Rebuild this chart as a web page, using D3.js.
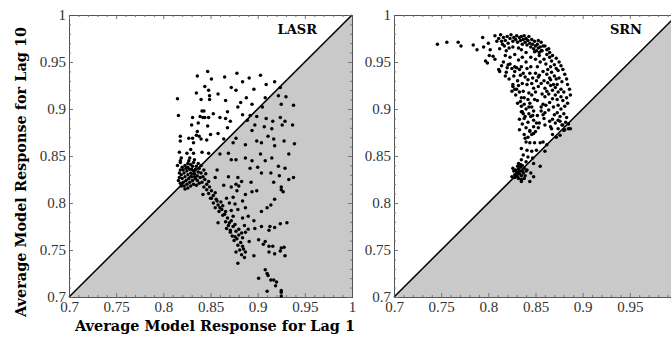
<!DOCTYPE html>
<html>
<head>
<meta charset="utf-8">
<script src="https://cdn.jsdelivr.net/npm/d3@7"></script>
<style>
  body { margin: 0; background: #fff; }
  svg { display: block; }
</style>
</head>
<body>
<div id="chart"></div>
<script>
// axis values
const majorTicks = [0.7, 0.75, 0.8, 0.85, 0.9, 0.95, 1];
const minorTicks = [0.71, 0.72, 0.73, 0.74, 0.76, 0.77, 0.78, 0.79, 0.81, 0.82, 0.83, 0.84,
  0.86, 0.87, 0.88, 0.89, 0.91, 0.92, 0.93, 0.94, 0.96, 0.97, 0.98, 0.99];
const panelNames = ['LASR', 'SRN'];
const xTitle = 'Average Model Response for Lag 1';
const yTitle = 'Average Model Response for Lag 10';

// LASR: [lag 1, lag 10]
const lasrPoints = [
  [0.847,0.940],[0.836,0.935],[0.851,0.932],[0.865,0.934],[0.878,0.938],[0.884,0.929],[0.891,0.933],
  [0.903,0.936],[0.909,0.926],[0.918,0.929],[0.924,0.923],[0.815,0.911],[0.844,0.924],[0.848,0.920],
  [0.835,0.917],[0.849,0.914],[0.840,0.910],[0.849,0.910],[0.858,0.916],[0.866,0.909],[0.872,0.923],
  [0.877,0.920],[0.896,0.921],[0.888,0.912],[0.882,0.907],[0.879,0.902],[0.894,0.905],[0.908,0.912],
  [0.905,0.902],[0.922,0.914],[0.930,0.913],[0.925,0.905],[0.938,0.904],[0.816,0.893],[0.841,0.898],
  [0.843,0.898],[0.839,0.892],[0.842,0.891],[0.844,0.891],[0.831,0.891],[0.848,0.891],[0.853,0.895],
  [0.860,0.891],[0.868,0.897],[0.866,0.890],[0.871,0.887],[0.868,0.880],[0.830,0.883],[0.847,0.882],
  [0.837,0.885],[0.884,0.894],[0.889,0.888],[0.892,0.893],[0.899,0.892],[0.909,0.890],[0.916,0.887],
  [0.924,0.891],[0.926,0.883],[0.929,0.887],[0.937,0.883],[0.897,0.883],[0.907,0.881],[0.915,0.879],
  [0.894,0.877],[0.836,0.876],[0.835,0.872],[0.838,0.871],[0.818,0.871],[0.827,0.869],[0.831,0.869],
  [0.840,0.868],[0.846,0.867],[0.850,0.873],[0.858,0.874],[0.864,0.868],[0.818,0.866],[0.832,0.864],
  [0.874,0.864],[0.887,0.862],[0.899,0.866],[0.904,0.864],[0.917,0.868],[0.918,0.861],[0.928,0.866],
  [0.939,0.863],[0.911,0.871],[0.877,0.869],
  [0.818,0.845],[0.817,0.854],[0.825,0.853],[0.829,0.857],[0.832,0.853],[0.841,0.854],[0.848,0.853],
  [0.860,0.852],[0.869,0.853],[0.877,0.846],[0.872,0.846],[0.887,0.848],[0.894,0.845],[0.903,0.852],
  [0.908,0.845],[0.915,0.848],[0.933,0.852],[0.922,0.839],[0.929,0.837],[0.900,0.838],[0.892,0.837],
  [0.904,0.832],[0.914,0.832],[0.923,0.829],[0.938,0.827],[0.933,0.825],[0.869,0.828],[0.879,0.827],
  [0.883,0.823],[0.877,0.820],[0.880,0.818],[0.872,0.817],[0.864,0.819],[0.857,0.835],[0.855,0.827],
  [0.848,0.823],[0.893,0.822],[0.917,0.822],[0.925,0.817],[0.894,0.812],[0.899,0.813],[0.887,0.809],
  [0.884,0.802],[0.878,0.813],[0.874,0.806],[0.867,0.805],[0.870,0.800],[0.876,0.799],[0.887,0.795],
  [0.879,0.793],[0.872,0.792],[0.863,0.797],[0.857,0.802],[0.860,0.795],[0.865,0.788],[0.874,0.786],
  [0.884,0.784],[0.890,0.786],[0.870,0.779],[0.876,0.777],[0.886,0.776],[0.896,0.781],[0.904,0.791],
  [0.910,0.795],[0.914,0.798],[0.918,0.804],[0.925,0.814],[0.927,0.812],[0.913,0.775],[0.918,0.774],
  [0.924,0.778],[0.931,0.779],[0.904,0.775],[0.897,0.773],[0.890,0.772],[0.867,0.773],[0.858,0.779],
  [0.851,0.805],[0.842,0.809],
  [0.871,0.771],[0.876,0.764],[0.880,0.766],[0.883,0.768],[0.887,0.769],[0.875,0.760],[0.882,0.758],
  [0.884,0.754],[0.881,0.750],[0.887,0.748],[0.883,0.745],[0.886,0.742],[0.879,0.736],[0.891,0.759],
  [0.896,0.744],[0.901,0.761],[0.908,0.759],[0.906,0.756],[0.912,0.754],[0.916,0.754],[0.912,0.748],
  [0.918,0.746],[0.924,0.749],[0.925,0.752],[0.928,0.753],[0.929,0.744],[0.912,0.771],[0.908,0.729],
  [0.910,0.725],[0.911,0.723],[0.901,0.720],[0.914,0.718],[0.917,0.718],[0.920,0.716],[0.919,0.712],
  [0.925,0.707],[0.925,0.705],[0.910,0.706],[0.925,0.701],
  [0.818,0.835],[0.820,0.838],[0.823,0.840],[0.826,0.842],[0.829,0.841],[0.831,0.839],[0.828,0.836],
  [0.825,0.834],[0.822,0.832],[0.819,0.830],[0.817,0.827],[0.820,0.826],[0.823,0.828],[0.826,0.830],
  [0.829,0.832],[0.832,0.834],[0.834,0.836],[0.833,0.831],[0.830,0.828],[0.827,0.826],[0.824,0.824],
  [0.821,0.822],[0.818,0.821],[0.816,0.824],[0.819,0.818],[0.822,0.818],[0.825,0.820],[0.828,0.822],
  [0.831,0.824],[0.834,0.826],[0.836,0.829],[0.837,0.833],[0.835,0.839],[0.832,0.843],[0.827,0.845],
  [0.824,0.837],[0.821,0.835],[0.817,0.832],[0.826,0.838],[0.830,0.836],[0.833,0.828],[0.836,0.824],
  [0.839,0.827],[0.838,0.821],[0.835,0.819],[0.832,0.820],[0.829,0.818],[0.826,0.816],[0.823,0.815],
  [0.840,0.832],[0.842,0.828],[0.841,0.822],[0.844,0.825],[0.838,0.837],[0.843,0.835],[0.845,0.831],
  [0.828,0.848],[0.833,0.846],[0.837,0.842],[0.840,0.840],[0.818,0.843],[0.815,0.840],[0.819,0.848],
  [0.846,0.820],[0.849,0.817],[0.846,0.814],[0.843,0.817],[0.851,0.813],[0.848,0.810],[0.853,0.808],
  [0.850,0.805],[0.855,0.811],[0.856,0.804],[0.853,0.800],[0.858,0.798],[0.861,0.801],[0.855,0.795],
  [0.859,0.791],[0.862,0.793],[0.863,0.787],[0.866,0.791],[0.868,0.784],[0.866,0.780],[0.869,0.776],
  [0.872,0.781],[0.874,0.775],[0.871,0.769],[0.877,0.770],[0.878,0.762],[0.873,0.765],[0.880,0.772],
  [0.884,0.763],[0.879,0.755],[0.885,0.751],[0.877,0.748]
];

// SRN: [lag 1, lag 10]
const srnPoints = [
  [0.746,0.969],[0.756,0.971],[0.768,0.971],[0.771,0.967],[0.784,0.968],[0.788,0.963],[0.794,0.976],
  [0.795,0.966],[0.800,0.970],[0.802,0.963],[0.797,0.951],[0.799,0.949],[0.801,0.957],[0.805,0.956],
  [0.807,0.953],
  [0.807,0.978],[0.809,0.972],[0.811,0.975],[0.813,0.979],[0.814,0.972],[0.816,0.976],[0.818,0.973],
  [0.820,0.977],[0.821,0.970],[0.823,0.975],[0.824,0.979],[0.826,0.972],[0.827,0.976],[0.829,0.974],
  [0.830,0.978],[0.831,0.971],[0.833,0.976],[0.834,0.973],[0.835,0.977],[0.836,0.969],[0.837,0.974],
  [0.838,0.978],[0.839,0.971],[0.840,0.975],[0.841,0.968],[0.842,0.973],[0.843,0.977],[0.844,0.970],
  [0.845,0.966],[0.846,0.974],[0.847,0.969],[0.848,0.964],[0.849,0.972],[0.850,0.967],[0.851,0.962],
  [0.852,0.969],[0.853,0.965],[0.854,0.960],[0.855,0.966],[0.857,0.962],[0.858,0.967],[0.817,0.967],
  [0.812,0.964],[0.822,0.965],[0.826,0.966],[0.832,0.965],[0.815,0.969],[0.819,0.962],[0.835,0.963],
  [0.856,0.971],[0.860,0.967],[0.864,0.964],[0.853,0.973],
  [0.849,0.961],[0.854,0.957],[0.856,0.962],[0.859,0.953],[0.862,0.958],[0.865,0.955],[0.855,0.950],
  [0.852,0.945],[0.850,0.953],[0.861,0.948],[0.863,0.942],[0.867,0.951],[0.866,0.945],[0.870,0.947],
  [0.872,0.943],[0.858,0.940],[0.854,0.936],[0.862,0.937],[0.865,0.933],[0.867,0.939],[0.870,0.935],
  [0.874,0.941],[0.875,0.933],[0.859,0.930],[0.856,0.927],[0.863,0.928],[0.866,0.931],[0.869,0.926],
  [0.872,0.932],[0.873,0.926],[0.878,0.929],[0.853,0.924],[0.860,0.922],[0.862,0.919],[0.866,0.925],
  [0.868,0.920],[0.871,0.923],[0.874,0.918],[0.877,0.921],[0.880,0.918],[0.857,0.916],[0.860,0.913],
  [0.864,0.916],[0.868,0.911],[0.871,0.915],[0.873,0.910],[0.877,0.913],[0.879,0.909],[0.883,0.912],
  [0.852,0.909],[0.858,0.905],[0.861,0.904],[0.865,0.907],[0.869,0.902],[0.874,0.904],[0.877,0.900],
  [0.881,0.903],[0.884,0.906],[0.856,0.898],[0.860,0.896],[0.864,0.899],[0.870,0.894],[0.873,0.896],
  [0.876,0.892],[0.880,0.895],[0.883,0.891],[0.859,0.890],[0.865,0.887],[0.868,0.889],[0.871,0.885],
  [0.876,0.887],[0.879,0.883],[0.882,0.886],[0.885,0.884],[0.866,0.881],[0.874,0.879],[0.880,0.877],
  [0.885,0.879],[0.868,0.873],[0.872,0.870],[0.876,0.872],
  [0.862,0.963],[0.865,0.960],[0.868,0.957],[0.872,0.954],[0.875,0.950],[0.877,0.946],[0.879,0.942],
  [0.881,0.937],[0.883,0.932],[0.884,0.926],[0.886,0.921],[0.887,0.915],
  [0.811,0.942],[0.812,0.940],[0.816,0.950],[0.820,0.944],[0.821,0.947],[0.825,0.943],[0.828,0.940],
  [0.828,0.945],[0.833,0.942],[0.834,0.936],[0.826,0.926],[0.828,0.921],[0.826,0.924],[0.825,0.919],
  [0.830,0.921],[0.837,0.919],[0.841,0.926],[0.842,0.931],[0.835,0.912],[0.842,0.910],[0.846,0.915],
  [0.849,0.910],[0.838,0.905],[0.840,0.900],[0.836,0.897],[0.843,0.895],[0.846,0.902],[0.838,0.890],
  [0.842,0.886],[0.845,0.892],[0.848,0.888],[0.840,0.880],[0.844,0.877],[0.848,0.881],[0.851,0.885],
  [0.836,0.884],[0.833,0.878],[0.838,0.873],[0.842,0.870],[0.846,0.873],[0.850,0.876],[0.853,0.880],
  [0.818,0.935],[0.822,0.932],[0.831,0.930],[0.836,0.927],[0.839,0.934],[0.844,0.938],[0.847,0.933],
  [0.850,0.938],[0.851,0.930],[0.848,0.922],[0.845,0.945],[0.840,0.950],[0.836,0.955],[0.832,0.952],
  [0.828,0.958],[0.823,0.955],[0.818,0.957],[0.840,0.960],[0.845,0.955],[0.835,0.945],
  [0.814,0.946],[0.819,0.939],[0.823,0.948],[0.827,0.935],[0.830,0.944],[0.832,0.925],[0.829,0.915],
  [0.833,0.918],[0.837,0.938],[0.838,0.912],[0.835,0.903],[0.831,0.906],[0.843,0.917],[0.841,0.943],
  [0.844,0.906],[0.848,0.898],[0.837,0.895],[0.833,0.889],[0.852,0.893],[0.850,0.918],[0.853,0.934],
  [0.846,0.927],
  [0.834,0.908],[0.843,0.902],[0.835,0.897],[0.839,0.892],[0.847,0.893],[0.856,0.902],[0.858,0.894],
  [0.854,0.885],[0.860,0.883],[0.867,0.879],[0.874,0.888],[0.878,0.883],[0.881,0.878],[0.887,0.879],
  [0.844,0.876],[0.848,0.874],[0.839,0.869],[0.840,0.865],[0.844,0.864],[0.849,0.864],[0.855,0.864],
  [0.858,0.865],[0.862,0.862],[0.835,0.858],[0.841,0.856],[0.846,0.855],[0.851,0.856],[0.860,0.855],
  [0.837,0.851],[0.842,0.849],[0.847,0.848],[0.835,0.846],[0.840,0.844],[0.848,0.842],[0.855,0.839],
  [0.832,0.842],[0.825,0.828],[0.835,0.823],[0.844,0.823],[0.848,0.828],[0.841,0.835],[0.845,0.832],
  [0.828,0.830],[0.830,0.833],[0.832,0.836],[0.834,0.838],[0.836,0.834],[0.833,0.831],[0.831,0.828],
  [0.829,0.835],[0.835,0.829],[0.837,0.832],[0.838,0.837],[0.834,0.841],[0.831,0.839],[0.827,0.834],
  [0.826,0.837],[0.832,0.826],[0.835,0.825],[0.839,0.829],[0.840,0.834],[0.836,0.840],[0.833,0.834],
  [0.830,0.830],[0.828,0.827],[0.838,0.826]
];

const panelData = [lasrPoints, srnPoints];

const width = 671, height = 339;
const plotW = 283, plotH = 282;
const panelLeft = [69, 394];
const plotTop = 15;
const serif = '"Liberation Serif", "Times New Roman", serif';
const titleFont = '"DejaVu Serif", serif';

const svg = d3.select('#chart').append('svg')
  .attr('width', width)
  .attr('height', height);

const x = d3.scaleLinear().domain([0.7, 1]).range([0, plotW]);
const y = d3.scaleLinear().domain([0.7, 1]).range([plotH, 0]);
const fmt = d3.format('~g');

panelData.forEach((points, p) => {
  const g = svg.append('g')
    .attr('transform', `translate(${panelLeft[p]},${plotTop})`);

  // shaded half below the diagonal
  g.append('path')
    .attr('d', d3.line()([[x(0.7), y(0.7)], [x(1), y(0.7)], [x(1), y(1)]]) + 'Z')
    .attr('fill', '#c9c9c9');

  g.append('line')
    .attr('x1', x(0.7)).attr('y1', y(0.7))
    .attr('x2', x(1)).attr('y2', y(1))
    .attr('stroke', '#000')
    .attr('stroke-width', 1.5);

  // frame ticks, pointing inwards; the right panel's "1" falls off the page
  const xLabel = v => (p === 1 && v === 1) ? '' : fmt(v);
  const axes = [
    { a: d3.axisBottom(x), t: `translate(0,${plotH})`, f: xLabel, pad: 4 },
    { a: d3.axisLeft(y), t: null, f: fmt, pad: 3 },
    { a: d3.axisTop(x), t: null, f: '', pad: 3 },
    { a: d3.axisRight(y), t: `translate(${plotW},0)`, f: '', pad: 3 }
  ];
  axes.forEach(d => {
    const major = g.append('g')
      .attr('transform', d.t)
      .call(d.a.tickValues(majorTicks).tickSize(-4).tickPadding(d.pad).tickFormat(d.f));
    const minor = g.append('g')
      .attr('transform', d.t)
      .call(d.a.tickValues(minorTicks).tickSize(-2).tickFormat(''));
    [major, minor].forEach(s => {
      s.select('.domain').attr('stroke', '#555').attr('stroke-width', 1);
      s.selectAll('.tick line').attr('stroke', '#777');
      s.selectAll('text')
        .attr('font-family', serif)
        .attr('font-size', 15)
        .attr('fill', '#333');
    });
  });

  g.append('g')
    .selectAll('circle')
    .data(points)
    .enter()
    .append('circle')
    .attr('cx', d => x(d[0]))
    .attr('cy', d => y(d[1]))
    .attr('r', 1.75)
    .attr('fill', '#000');

  g.append('text')
    .attr('x', plotW - 35)
    .attr('y', 19)
    .attr('text-anchor', 'end')
    .attr('font-family', titleFont)
    .attr('font-weight', 'bold')
    .attr('font-size', 13)
    .text(panelNames[p]);
});

svg.append('text')
  .attr('x', 215)
  .attr('y', 331)
  .attr('text-anchor', 'middle')
  .attr('font-family', titleFont)
  .attr('font-weight', 'bold')
  .attr('font-size', 14)
  .attr('textLength', 280)
  .attr('lengthAdjust', 'spacingAndGlyphs')
  .text(xTitle);

svg.append('text')
  .attr('transform', 'translate(26,172) rotate(-90)')
  .attr('text-anchor', 'middle')
  .attr('font-family', titleFont)
  .attr('font-weight', 'bold')
  .attr('font-size', 14)
  .attr('textLength', 290)
  .attr('lengthAdjust', 'spacingAndGlyphs')
  .text(yTitle);
</script>
</body>
</html>
